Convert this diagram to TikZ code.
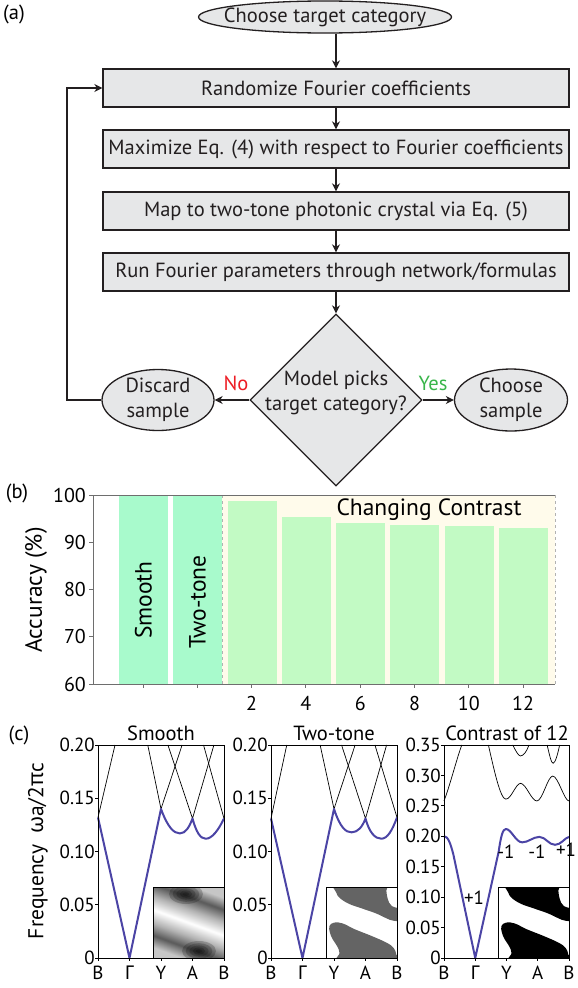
\documentclass[tikz,border=0pt]{standalone}
\usepackage{fontspec}
\setmainfont{PT Sans}
\newfontfamily\grk{Noto Sans}
\usetikzlibrary{arrows.meta,shapes.geometric}

\definecolor{boxgray}{RGB}{230,231,232}
\definecolor{linec}{RGB}{35,31,32}
\definecolor{nored}{RGB}{237,28,36}
\definecolor{yesgreen}{RGB}{57,181,74}
\definecolor{mint}{RGB}{168,250,204}
\definecolor{ltgreen}{RGB}{194,250,196}
\definecolor{cream}{RGB}{255,251,235}
\definecolor{axgray}{RGB}{110,110,110}
\definecolor{bandblue}{RGB}{75,68,165}
\definecolor{tonegray}{RGB}{100,100,100}

\newcommand\bigtxt{\fontsize{20.5}{25}\selectfont}
\newcommand\chartxt{\fontsize{23.5}{28}\selectfont}
\newcommand\midtxt{\fontsize{19}{22}\selectfont}

% grey-scale stripes for the smooth unit cell
\pgfdeclareverticalshading{smoothband}{100bp}{color(0bp)=(gray!45); color(25bp)=(gray!45); color(33bp)=(black!65); color(41bp)=(gray!60); color(50bp)=(white); color(59bp)=(gray!60); color(67bp)=(black!65); color(75bp)=(gray!45); color(100bp)=(gray!45)}

\tikzset{
  flow/.style={draw=linec, fill=boxgray, line width=1.3pt, font=\bigtxt, text=linec},
  procbox/.style={flow, rectangle, minimum width=466pt, minimum height=38pt, inner sep=0pt},
  termin/.style={flow, ellipse, inner sep=0pt},
  decis/.style={flow, diamond, shape aspect=1, minimum width=172pt, minimum height=172pt, inner sep=0pt},
  arr/.style={draw=linec, line width=1.3pt, -{Stealth[length=8pt,width=8pt,inset=2.5pt]}},
  lbltxt/.style={font=\bigtxt, inner sep=0pt},
  flowtxt/.style={font=\bigtxt, inner sep=0pt, align=center, text=linec},
  chartlbl/.style={font=\chartxt, inner sep=0pt},
  ticklbl/.style={font=\midtxt, inner sep=0pt},
  axisline/.style={draw=axgray, line width=1pt},
  sepline/.style={draw=gray!60, line width=0.8pt, dashed},
  plotframe/.style={draw=black, line width=0.9pt},
  blueband/.style={draw=bandblue, line width=2pt, line join=round},
  blackband/.style={draw=black, line width=0.7pt},
}

\begin{document}
\begin{tikzpicture}[x=1pt,y=-1pt]
\useasboundingbox (0,0) rectangle (578,988);

% ---------- panel labels ----------
\node[lbltxt] (la) at (14,14) {(a)};
\node[lbltxt] (lb) at (17,493) {(b)};
\node[lbltxt] (lc) at (19,735) {(c)};

% ---------- (a) flowchart ----------
\node[termin, minimum width=253pt, minimum height=32pt] (start) at (325,17) {};
\node[flowtxt] (starttxt) at (start) {Choose target category};
\node[procbox] (rand) at (336,88) {Randomize Fourier coefficients};
\node[procbox] (maxi) at (336,149) {Maximize Eq. (4) with respect to Fourier coefficients};
\node[procbox] (map) at (336,211) {Map to two-tone photonic crystal via Eq. (5)};
\node[procbox] (run) at (336,272) {Run Fourier parameters through network/formulas};
\node[decis] (pick) at (336,400) {};
\node[flowtxt] (picktxt) at (336,393) {Model picks\\target category?};
\node[termin, minimum width=112pt, minimum height=61pt] (disc) at (158,400) {};
\node[flowtxt] (disctxt) at (disc) {Discard\\sample};
\node[termin, minimum width=113pt, minimum height=62pt] (keep) at (511,400) {};
\node[flowtxt] (keeptxt) at (keep) {Choose\\sample};
\coordinate (loopcorner) at (67,400);

\draw[arr] (start.south -| rand.north) -- (rand.north);
\draw[arr] (rand) -- (maxi);
\draw[arr] (maxi) -- (map);
\draw[arr] (map) -- (run);
\draw[arr] (run) -- (pick);
\draw[arr] (pick) -- (disc);
\draw[arr] (pick) -- (keep);
\draw[arr] (disc.west) -- (loopcorner) |- (rand.west);

\node[lbltxt, text=nored] (no) at (236,383) {No};
\node[lbltxt, text=yesgreen] (yes) at (433,383) {Yes};

% ---------- (b) accuracy bars ----------
\fill[cream] (222,495) rectangle (555,684);
\fill[mint] (119,495) rectangle (168,684);
\fill[mint] (173,495) rectangle (222,684);
\foreach \i/\v in {0/98.7,1/95.3,2/94.0,3/93.6,4/93.4,5/93.0}
  \fill[ltgreen] ({252.3+54.2*\i-24.5},{684-(\v-60)*4.725}) rectangle ({252.3+54.2*\i+24.5},684);
\draw[sepline] (222,495) -- (222,684);
\draw[sepline] (555,495) -- (555,684);
\draw[axisline] (93,495) -- (555,495);
\draw[axisline] (93,495) -- (93,684) -- (555,684);
\foreach \v in {60,70,80,90,100} {
  \draw[axisline] (89,{684-(\v-60)*4.725}) -- (93,{684-(\v-60)*4.725});
  \node[ticklbl, font=\fontsize{20}{22}\selectfont, anchor=east] at (86,{684-(\v-60)*4.725}) {\v};
}
\foreach \i in {0,...,7}
  \draw[axisline] ({143+54.3*\i},684) -- ({143+54.3*\i},688);
\foreach \i/\t in {2/2,3/4,4/6,5/8,6/10,7/12}
  \node[ticklbl, font=\fontsize{20}{22}\selectfont] at ({143+54.3*\i},703) {\t};
\node[chartlbl, rotate=90] (smoothlbl) at (143.5,600) {Smooth};
\node[chartlbl, rotate=90] (twolbl) at (197.5,602) {Two-tone};
\node[chartlbl] (chg) at (429,510) {Changing Contrast};
\node[chartlbl, rotate=90] (acc) at (36,590) {Accuracy (\%)};

% ---------- (c) band diagrams ----------
\node[lbltxt, font=\fontsize{21.5}{25}\selectfont, rotate=90] (freq) at (38,851) {Frequency\enspace{\grk ω}a/2{\grk π}c};
\node[lbltxt] (t1) at (161,733) {Smooth};
\node[lbltxt] (t2) at (334,733) {Two-tone};
\node[lbltxt] (t3) at (507,733) {Contrast of 12};

% plot 1: smooth
\begin{scope}[shift={(98,958)}, x=31.5pt, y=1065pt]
  \draw[blackband] (0,0.132) -- (0.54,0.2);
  \draw[blackband] (1.58,0.2) -- (2,0.14) -- (2.67,0.2);
  \draw[blackband] (2.22,0.2) -- (3,0.131) -- (3.68,0.2);
  \draw[blackband] (3.35,0.2) -- (4,0.131);
  \draw[blueband] (0,0.132) -- (1,0) -- (2,0.14)
    .. controls (2.22,0.122) and (2.42,0.117) .. (2.6,0.117)
    .. controls (2.78,0.117) and (2.9,0.123) .. (3,0.131)
    .. controls (3.12,0.118) and (3.25,0.112) .. (3.42,0.112)
    .. controls (3.62,0.112) and (3.82,0.12) .. (4,0.131);
\end{scope}
% plot 2: two-tone
\begin{scope}[shift={(271,958)}, x=31.5pt, y=1065pt]
  \draw[blackband] (0,0.131) -- (0.5,0.2);
  \draw[blackband] (1.56,0.2) -- (2,0.14) -- (2.67,0.2);
  \draw[blackband] (2.24,0.2) -- (3,0.131) -- (3.67,0.2);
  \draw[blackband] (3.3,0.2) -- (4,0.132);
  \draw[blueband] (0,0.131) -- (1,0) -- (2,0.14)
    .. controls (2.2,0.122) and (2.38,0.118) .. (2.56,0.118)
    .. controls (2.75,0.118) and (2.9,0.123) .. (3,0.131)
    .. controls (3.12,0.118) and (3.3,0.112) .. (3.5,0.112)
    .. controls (3.7,0.112) and (3.85,0.12) .. (4,0.132);
\end{scope}
% plot 3: contrast of 12
\begin{scope}[shift={(444,958)}, x=31.25pt, y=608.6pt]
  \draw[blackband] (0,0.258) .. controls (0.2,0.285) and (0.42,0.33) .. (0.57,0.35);
  \draw[blackband] (1.42,0.35) .. controls (1.6,0.31) and (1.8,0.261) .. (1.98,0.261)
    .. controls (2.15,0.261) and (2.3,0.287) .. (2.45,0.287)
    .. controls (2.62,0.287) and (2.8,0.258) .. (2.97,0.258)
    .. controls (3.15,0.258) and (3.32,0.299) .. (3.48,0.299)
    .. controls (3.65,0.299) and (3.85,0.258) .. (4,0.258);
  \draw[blackband] (2.2,0.35) .. controls (2.3,0.34) and (2.38,0.332) .. (2.45,0.332)
    .. controls (2.55,0.332) and (2.65,0.34) .. (2.72,0.35);
  \draw[blackband] (3.3,0.35) .. controls (3.37,0.335) and (3.43,0.32) .. (3.49,0.32)
    .. controls (3.56,0.32) and (3.64,0.335) .. (3.7,0.35);
  \draw[blueband] (0,0.2) .. controls (0.12,0.2) and (0.2,0.19) .. (0.3,0.17) -- (1,0) -- (1.75,0.175)
    .. controls (1.82,0.2) and (1.88,0.212) .. (1.98,0.212)
    .. controls (2.15,0.212) and (2.3,0.19) .. (2.5,0.19)
    .. controls (2.7,0.19) and (2.85,0.199) .. (3.05,0.199)
    .. controls (3.25,0.199) and (3.35,0.186) .. (3.55,0.186)
    .. controls (3.75,0.186) and (3.85,0.197) .. (4,0.199);
\end{scope}
\node[ticklbl] (p1) at (474,898) {+1};
\node[ticklbl] (m1) at (506,852) {-1};
\node[ticklbl] (m2) at (537,852) {-1};
\node[ticklbl] (p2) at (566,850) {+1};

% unit-cell insets
\begin{scope}
  \clip (153,887) rectangle (224,958);
  \shade[shading=smoothband, shading angle=-20] (153,887) rectangle (224,958);
  \foreach \r in {1,0.78,0.56,0.36,0.18} {
    \fill[black, fill opacity=0.2] (186,894) ellipse ({17*\r} and {10*\r});
    \fill[black, fill opacity=0.2] (199,951) ellipse ({17*\r} and {10*\r});
  }
\end{scope}
\draw[plotframe] (153,887) rectangle (224,958);

\foreach \ox/\col in {326/tonegray,498/black} {
  \begin{scope}
    \clip (\ox,887) rectangle ({\ox+71},958);
    \fill[white] (\ox,887) rectangle ({\ox+71},958);
    \begin{scope}[shift={(\ox,887)}, x=71pt, y=-71pt]
      \fill[\col] plot[smooth cycle, tension=0.6] coordinates {(0.12,-0.1) (0.84,-0.1) (0.85,0.05) (0.87,0.17) (0.93,0.27) (1.1,0.33) (1.1,0.47) (0.95,0.475) (0.85,0.44) (0.7,0.37) (0.5,0.3) (0.33,0.24) (0.2,0.16) (0.14,0.07)};
      \fill[\col] plot[smooth cycle, tension=0.6] coordinates {(0.048,0.548) (0.119,0.5) (0.238,0.514) (0.405,0.595) (0.643,0.69) (0.857,0.786) (0.952,0.857) (0.99,0.95) (1.0,1.1) (0.17,1.1) (0.19,0.93) (0.157,0.833) (0.095,0.738) (0.055,0.643)};
    \end{scope}
  \end{scope}
  \draw[plotframe] (\ox,887) rectangle ({\ox+71},958);
}

% frames, ticks and labels
\foreach \ox in {98,271} {
  \draw[plotframe] (\ox,745) rectangle ({\ox+126},958);
  \foreach \f/\t in {0/0,0.05/0.05,0.1/0.10,0.15/0.15,0.2/0.20} {
    \draw[plotframe] ({\ox-3},{958-1065*\f}) -- (\ox,{958-1065*\f});
    \node[ticklbl, anchor=east] at ({\ox-3},{958-1065*\f}) {\t};
  }
  \foreach \i/\t in {0/B,1/{\grk Γ},2/Y,3/A,4/B} {
    \draw[plotframe] ({\ox+31.5*\i},958) -- ({\ox+31.5*\i},961);
    \node[ticklbl] at ({\ox+31.5*\i},973) {\t};
  }
}
\draw[plotframe] (444,745) rectangle (569,958);
\foreach \f/\t in {0/0,0.05/0.05,0.1/0.10,0.15/0.15,0.2/0.20,0.25/0.25,0.3/0.30,0.35/0.35} {
  \draw[plotframe] (441,{958-608.6*\f}) -- (444,{958-608.6*\f});
  \node[ticklbl, anchor=east] at (441,{958-608.6*\f}) {\t};
}
\foreach \i/\t in {0/B,1/{\grk Γ},2/Y,3/A,4/B} {
  \draw[plotframe] ({444+31.25*\i},958) -- ({444+31.25*\i},961);
  \node[ticklbl] at ({444+31.25*\i},973) {\t};
}
\end{tikzpicture}
\end{document}
